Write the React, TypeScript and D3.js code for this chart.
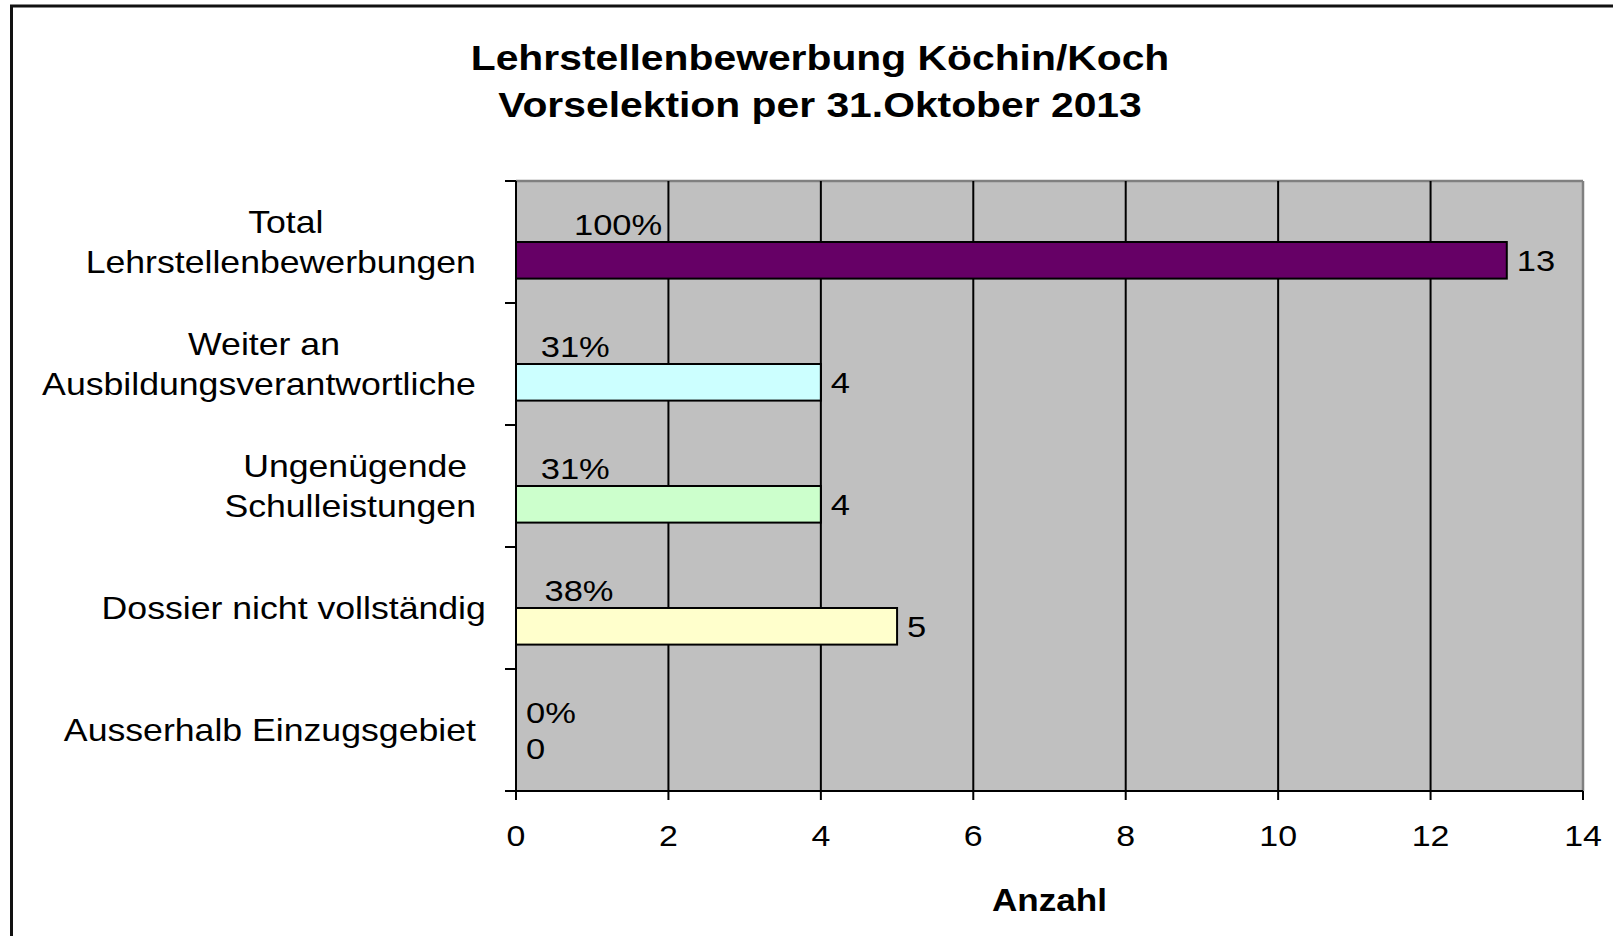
import React from "react";
import * as d3 from "d3";

// ---- data ----
const categories = [
  "Total\nLehrstellenbewerbungen ",
  "Weiter an\nAusbildungsverantwortliche ",
  "Ungenügende\nSchulleistungen ",
  "Dossier nicht vollständig",
  "Ausserhalb Einzugsgebiet ",
];
const values = [13, 4, 4, 5, 0];
const xTickValues = [0, 2, 4, 6, 8, 10, 12, 14];
const titleLines = ["Lehrstellenbewerbung Köchin/Koch", "Vorselektion per 31.Oktober 2013"];
const xAxisTitle = "Anzahl";

// ---- styles ----
const barColors = ["#660066", "#CCFFFF", "#CCFFCC", "#FFFFCC", "#FFCC99"];
const W = 1613;
const H = 936;
const FONT = '"Liberation Sans", Arial, Helvetica, sans-serif';
const SX = 1.15; // horizontal stretch of the original rendering
const plot = { left: 516, right: 1583, top: 181, bottom: 791 };
const FS_TITLE = 35.5;
const FS_CAT = 31;
const FS_TICK = 29.5;
const FS_LBL = 30;
const FS_AXT = 30.5;

let ctx: CanvasRenderingContext2D | null = null;
function measure(text: string, size: number, weight = "normal") {
  if (!ctx) ctx = document.createElement("canvas").getContext("2d");
  if (!ctx) return text.length * size * 0.55 * SX;
  ctx.font = `${weight} ${size}px ${FONT}`;
  return ctx.measureText(text).width * SX;
}

const T = ({ x, y, size, anchor = "start", weight = "normal", children }: any) => (
  <text
    transform={`translate(${x},${y}) scale(${SX},1)`}
    fontSize={size}
    fontFamily={FONT}
    fontWeight={weight}
    textAnchor={anchor}
    fill="#000"
  >
    {children}
  </text>
);

export default function App() {
  const x = d3.scaleLinear().domain([0, 14]).range([plot.left, plot.right]);
  const y = d3.scaleBand<string>().domain(categories).range([plot.top, plot.bottom]).paddingInner(0).paddingOuter(0);
  const band = y.bandwidth();
  const barH = band * 0.3;
  const total = values[0];
  const pctFmt = d3.format(".0%");
  const boundaries = [...categories.map((c) => y(c) as number), plot.bottom];
  const labelRight = plot.left - 30;

  return (
    <svg
      width={W}
      height={H}
      style={{ position: "absolute", left: 0, top: 0, background: "#fff", overflow: "hidden" }}
    >
      <rect x={0} y={0} width={W} height={H} fill="#fff" />
      {/* outer frame */}
      <rect x={11.5} y={6} width={3000} height={3000} fill="none" stroke="#111" strokeWidth={3} />

      {/* title */}
      {titleLines.map((t, i) => (
        <T key={i} x={820} y={70 + i * 46.7} size={FS_TITLE} anchor="middle" weight="bold">
          {t}
        </T>
      ))}

      {/* plot background */}
      <rect x={plot.left} y={plot.top} width={plot.right - plot.left} height={plot.bottom - plot.top} fill="#C0C0C0" />
      <line x1={plot.left} x2={plot.right} y1={plot.top} y2={plot.top} stroke="#808080" strokeWidth={2.5} />
      <line x1={plot.right} x2={plot.right} y1={plot.top} y2={plot.bottom} stroke="#808080" strokeWidth={2.5} />

      {/* gridlines */}
      {xTickValues
        .filter((t) => t > 0 && t < 14)
        .map((t) => (
          <line key={t} x1={x(t)} x2={x(t)} y1={plot.top} y2={plot.bottom} stroke="#000" strokeWidth={2} />
        ))}

      {/* bars */}
      {categories.map((c, i) => {
        const yc = (y(c) as number) + band / 2;
        const w = x(values[i]) - x(0);
        return w > 0 ? (
          <rect key={c} x={x(0)} y={yc} width={w} height={barH} fill={barColors[i]} stroke="#000" strokeWidth={2} />
        ) : null;
      })}

      {/* axes */}
      <line x1={plot.left} x2={plot.left} y1={plot.top} y2={plot.bottom} stroke="#000" strokeWidth={2} />
      <line x1={plot.left} x2={plot.right} y1={plot.bottom} y2={plot.bottom} stroke="#000" strokeWidth={2} />
      {boundaries.map((b, i) => (
        <line key={i} x1={plot.left - 11} x2={plot.left} y1={b} y2={b} stroke="#000" strokeWidth={2} />
      ))}
      {xTickValues.map((t) => (
        <line key={t} x1={x(t)} x2={x(t)} y1={plot.bottom} y2={plot.bottom + 9} stroke="#000" strokeWidth={2} />
      ))}

      {/* x tick labels */}
      {xTickValues.map((t) => (
        <T key={t} x={x(t)} y={846} size={FS_TICK} anchor="middle">
          {String(t)}
        </T>
      ))}

      {/* axis title */}
      <T x={(plot.left + plot.right) / 2} y={911} size={FS_AXT} anchor="middle" weight="bold">
        {xAxisTitle}
      </T>

      {/* category labels (centred lines, block right-aligned; trailing spaces counted) */}
      {categories.map((c) => {
        const lines = c.split("\n");
        const widths = lines.map((l) => measure(l, FS_CAT));
        const maxW = Math.max(...widths);
        const cx = labelRight - maxW / 2;
        const center = (y(c) as number) + band / 2;
        return lines.map((l, j) => (
          <T
            key={c + j}
            x={cx - widths[j] / 2}
            y={center + 10.5 + (j - (lines.length - 1) / 2) * 40}
            size={FS_CAT}
          >
            {l.trimEnd()}
          </T>
        ));
      })}

      {/* percentage labels */}
      {categories.map((c, i) => {
        const pct = values[i] / total;
        const center = (y(c) as number) + band / 2;
        return (
          <T key={c} x={x(0) + 10 + 48 * pct} y={center - 7.5} size={FS_LBL}>
            {pctFmt(pct)}
          </T>
        );
      })}

      {/* value labels */}
      {categories.map((c, i) => {
        const barCenter = (y(c) as number) + band / 2 + barH / 2;
        return (
          <T key={c} x={x(values[i]) + 10} y={barCenter + 10.5} size={FS_LBL}>
            {String(values[i])}
          </T>
        );
      })}
    </svg>
  );
}
